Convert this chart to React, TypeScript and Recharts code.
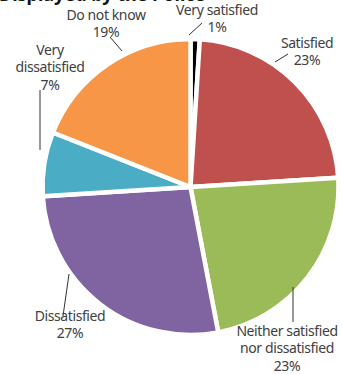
import React from 'react';
import { PieChart, Pie, Cell } from 'recharts';

const categories = ['Very satisfied', 'Satisfied', 'Neither satisfied nor dissatisfied', 'Dissatisfied', 'Very dissatisfied', 'Do not know'];
const values = [1, 23, 23, 27, 7, 19];
const labelLines = [
  ['Very satisfied', '1%'],
  ['Satisfied', '23%'],
  ['Neither satisfied', 'nor dissatisfied', '23%'],
  ['Dissatisfied', '27%'],
  ['Very', 'dissatisfied', '7%'],
  ['Do not know', '19%'],
];
const colors = ['#000000', '#C0504D', '#9BBB59', '#8064A2', '#4BACC6', '#F79646'];
const title = 'Displayed by the Police';

const data = categories.map((name, i) => ({ name, value: values[i] }));

// label layout: text center x, first baseline y, leader line
const layout = [
  { x: 217, y: 15, line: [189, 35, 202, 23] },
  { x: 287, y: 336, line: [293, 287, 293, 322] },
  { x: 70, y: 321, line: [63, 316, 69, 274] },
  { x: 50, y: 55, line: [40, 90, 40, 150] },
  { x: 106, y: 20, line: [110, 37, 122, 51] },
];
layout.splice(1, 0, { x: 307, y: 48, line: [275, 62, 288, 54] });

const FONT = '"Noto Sans", sans-serif';

const renderLabel = (props: any) => {
  const { index } = props;
  const l = layout[index];
  const lines = labelLines[index];
  return (
    <g key={`lbl-${index}`}>
      <line x1={l.line[0]} y1={l.line[1]} x2={l.line[2]} y2={l.line[3]} stroke="#333" strokeWidth={1} />
      <text x={l.x} y={l.y} textAnchor="middle" fill="#404040" fontFamily={FONT} fontSize={14} letterSpacing={-0.4}>
        {lines.map((t, j) => (
          <tspan key={j} x={l.x} dy={j === 0 ? 0 : 17.4}>{t}</tspan>
        ))}
      </text>
    </g>
  );
};

export default function App() {
  return (
    <div style={{ position: 'absolute', left: 0, top: 0, width: 342, height: 374, overflow: 'hidden', background: '#fff' }}>
      <div style={{ position: 'absolute', left: -1, top: -15, fontFamily: FONT, fontWeight: 'bold', fontSize: 18, lineHeight: '18px', color: '#111', whiteSpace: 'nowrap' }}>
        {title}
      </div>
      <div style={{ position: 'absolute', left: 0, top: 0 }}>
        <PieChart width={342} height={374}>
          <Pie
            data={data}
            dataKey="value"
            cx={185.5}
            cy={182}
            outerRadius={148}
            startAngle={90}
            endAngle={-270}
            stroke="#ffffff"
            strokeWidth={4.5}
            isAnimationActive={false}
            label={renderLabel}
            labelLine={false}
          >
            {data.map((d, i) => (
              <Cell key={d.name} fill={colors[i]} />
            ))}
          </Pie>
        </PieChart>
      </div>
    </div>
  );
}
